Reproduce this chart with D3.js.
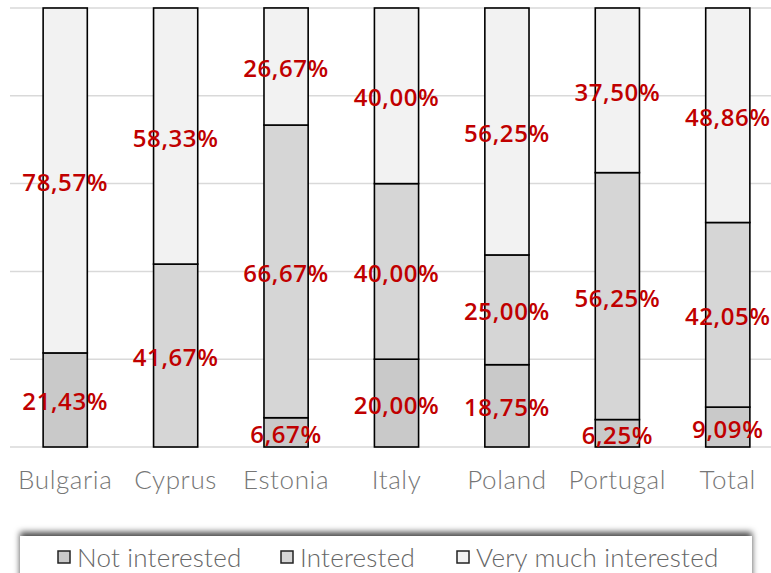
<!DOCTYPE html>
<html>
<head>
<meta charset="utf-8">
<script src="https://cdn.jsdelivr.net/npm/d3@7"></script>
<style>
  html, body { margin: 0; padding: 0; background: #fff; }
  svg { display: block; }
</style>
</head>
<body>
<svg id="chart" width="771" height="573"></svg>
<script>
// Interest by country, stacked to 100 %
const categories = ["Bulgaria", "Cyprus", "Estonia", "Italy", "Poland", "Portugal", "Total"];
const notInterested = [21.43, 0, 6.67, 20.00, 18.75, 6.25, 9.09];
const interested = [0, 41.67, 66.67, 40.00, 25.00, 56.25, 42.05];
const veryMuch = [78.57, 58.33, 26.67, 40.00, 56.25, 37.50, 48.86];
const seriesNames = ["Not interested", "Interested", "Very much interested"];
const seriesColors = ["#c9c9c9", "#d6d6d6", "#f2f2f2"];
const yTicks = [0, 20, 40, 60, 80, 100];

const svg = d3.select("#chart");

const rows = categories.map((c, i) => ({
  cat: c,
  "Not interested": notInterested[i],
  "Interested": interested[i],
  "Very much interested": veryMuch[i]
}));
const stacked = d3.stack().keys(seriesNames)(rows);

const x = d3.scaleBand().domain(categories).range([10, 783]).paddingInner(0.6).paddingOuter(0.3);
const y = d3.scaleLinear().domain([0, 100]).range([447, 8]);

// horizontal gridlines
svg.append("g")
  .selectAll("line")
  .data(yTicks)
  .join("line")
  .attr("x1", 10).attr("x2", 771)
  .attr("y1", d => y(d)).attr("y2", d => y(d))
  .attr("stroke", "#d9d9d9")
  .attr("stroke-width", 1.5);

// stacked bars
const layers = svg.append("g")
  .selectAll("g")
  .data(stacked)
  .join("g")
  .attr("fill", (d, i) => seriesColors[i]);

layers.selectAll("rect")
  .data(d => d.filter(s => s[1] - s[0] > 0))
  .join("rect")
  .attr("x", d => x(d.data.cat))
  .attr("width", x.bandwidth())
  .attr("y", d => y(d[1]))
  .attr("height", d => y(d[0]) - y(d[1]))
  .attr("stroke", "#000")
  .attr("stroke-width", 1.6);

// value labels
const fmt = v => d3.format(".2f")(v).replace(".", ",") + "%";
svg.append("g")
  .selectAll("g")
  .data(stacked)
  .join("g")
  .selectAll("text")
  .data(d => d.filter(s => s[1] - s[0] > 0))
  .join("text")
  .attr("x", d => x(d.data.cat) + x.bandwidth() / 2)
  .attr("y", d => (y(d[0]) + y(d[1])) / 2 + 1)
  .attr("text-anchor", "middle")
  .attr("dominant-baseline", "central")
  .attr("font-family", "'Open Sans', sans-serif")
  .attr("font-weight", 600)
  .attr("font-size", 24)
  .attr("letter-spacing", 0.6)
  .attr("fill", "#c00000")
  .text(d => fmt(d[1] - d[0]));

// category axis
const xAxis = svg.append("g")
  .attr("transform", "translate(0,447)")
  .call(d3.axisBottom(x).tickSize(0).tickPadding(23));
xAxis.select(".domain").remove();
xAxis.selectAll("text")
  .attr("font-family", "Lato, sans-serif")
  .attr("font-weight", 300)
  .attr("font-size", 26)
  .attr("letter-spacing", 0.6)
  .attr("fill", "#767676")
  .attr("dy", "0.72em");

// legend box with soft shadow along the top edge
const defs = svg.append("defs");
const flt = defs.append("filter").attr("id", "shadow")
  .attr("x", "-5%").attr("y", "-50%").attr("width", "110%").attr("height", "200%");
flt.append("feDropShadow").attr("dx", 0).attr("dy", -4).attr("stdDeviation", 3)
  .attr("flood-color", "#000").attr("flood-opacity", 0.7);

svg.append("rect")
  .attr("x", 20).attr("y", 536).attr("width", 732).attr("height", 60)
  .attr("fill", "#fff")
  .attr("filter", "url(#shadow)");

const legendX = [58, 281, 457];
const legend = svg.append("g")
  .selectAll("g")
  .data(seriesNames)
  .join("g")
  .attr("transform", (d, i) => `translate(${legendX[i]},551)`);
legend.append("rect")
  .attr("width", 12).attr("height", 12)
  .attr("fill", (d, i) => seriesColors[i])
  .attr("stroke", "#222").attr("stroke-width", 1.5);
legend.append("text")
  .attr("x", 19).attr("y", 6)
  .attr("dominant-baseline", "central")
  .attr("font-family", "Lato, sans-serif")
  .attr("font-weight", 300)
  .attr("font-size", 26)
  .attr("letter-spacing", 0.2)
  .attr("fill", "#666")
  .text(d => d);
</script>
</body>
</html>
